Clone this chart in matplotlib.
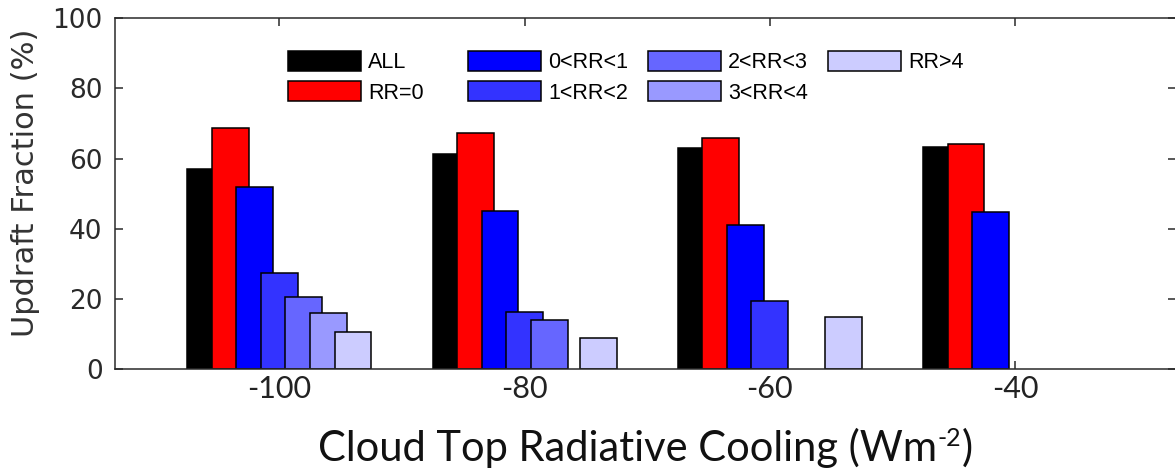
import numpy as np
import matplotlib
matplotlib.use("Agg")
import matplotlib.pyplot as plt
from matplotlib.patches import Patch

# ---- data ----
categories = [-100, -80, -60, -40]
series_names = ["ALL", "RR=0", "0<RR<1", "1<RR<2", "2<RR<3", "3<RR<4", "RR>4"]
all_vals = [57.0, 61.2, 63.0, 63.4]
rr0_vals = [68.7, 67.4, 65.8, 64.1]
rr01_vals = [51.8, 45.1, 41.1, 44.8]
rr12_vals = [27.5, 16.3, 19.3, np.nan]
rr23_vals = [20.7, 13.9, np.nan, np.nan]
rr34_vals = [16.1, np.nan, np.nan, np.nan]
rr4_vals = [10.6, 9.0, 14.8, np.nan]
series_values = [all_vals, rr0_vals, rr01_vals, rr12_vals, rr23_vals, rr34_vals, rr4_vals]
series_colors = ["#000000", "#FF0000", "#0000FF", "#3333FF", "#6666FF", "#9999FF", "#CCCCFF"]
yticks = [0, 20, 40, 60, 80, 100]

plt.rcParams['axes.unicode_minus'] = False

W, H = 1175, 472
fig = plt.figure(figsize=(W / 100, H / 100), dpi=100)

# axes placement in pixels
ax_l, ax_r, ax_t, ax_b = 115, 1176.5, 18, 369.3
ax = fig.add_axes([ax_l / W, 1 - ax_b / H, (ax_r - ax_l) / W, (ax_b - ax_t) / H])

bar_w = 3.0
step = 2.0
x = np.array(categories, dtype=float)
for i, (vals, col) in enumerate(zip(series_values, series_colors)):
    ax.bar(x + (i - 3) * step, vals, width=bar_w, color=col, edgecolor="black",
           linewidth=1.1, zorder=2 + i * 0.01)

ax.set_xlim(-113.4, -26.84)
ax.set_ylim(0, 100)
ax.set_xticks(categories)
ax.set_yticks(yticks)

spine_col = "#2a2a2a"
for s in ax.spines.values():
    s.set_linewidth(1.1)
    s.set_color(spine_col)

ax.tick_params(axis="both", direction="in", length=5.5, width=1.1, color=spine_col,
               top=True, right=True)
ax.tick_params(axis="y", labelsize=19, pad=9, labelcolor="#2a2a2a")
ax.tick_params(axis="x", labelsize=22, pad=4, labelcolor="#222222")
for lab in ax.get_yticklabels():
    lab.set_fontfamily("DejaVu Sans")
for lab in ax.get_xticklabels():
    lab.set_fontfamily("Lato")

# y label
fig.text(26 / W, 1 - 182.5 / H, "Updraft Fraction (%)", rotation=90, ha="center", va="center",
         fontsize=22, color="#333333", family="DejaVu Sans")

# x label built from pieces (regular hyphen in the superscript)
renderer = fig.canvas.get_renderer()
base_y = 1 - 461 / H
xl_fs = 30
t1 = fig.text(0, base_y, "Cloud Top Radiative Cooling (Wm", ha="left", va="baseline",
              fontsize=xl_fs, color="#111111", family="Lato")
w1 = t1.get_window_extent(renderer).width
t2 = fig.text(0, base_y, "-2", ha="left", va="baseline", fontsize=xl_fs * 0.6,
              color="#111111", family="Lato")
w2 = t2.get_window_extent(renderer).width
t3 = fig.text(0, base_y, ")", ha="left", va="baseline", fontsize=xl_fs,
              color="#111111", family="Lato")
w3 = t3.get_window_extent(renderer).width
total = w1 + w2 + w3 + 1
x0 = 645 - total / 2
t1.set_x(x0 / W)
t2.set_x((x0 + w1 + 0.5) / W)
t2.set_y(base_y + 15 / H)
t3.set_x((x0 + w1 + w2 + 1) / W)

# legend: 4 columns with uniform pitch
handles = [Patch(facecolor=c, edgecolor="black", linewidth=1.1) for c in series_colors]
col_groups = [[0, 1], [2, 3], [4, 5], [6]]
col_x = [288.3, 468.3, 648.3, 828.3]
fs = 15.5
fs_px = fs / 0.72
leg_prop = {"family": "Liberation Sans", "size": fs}
legends = []
for cx, grp in zip(col_x, col_groups):
    leg = ax.legend([handles[k] for k in grp], [series_names[k] for k in grp],
                    loc="upper left", bbox_to_anchor=(cx / W, 1 - 50.5 / H),
                    bbox_transform=fig.transFigure, frameon=False, borderpad=0,
                    borderaxespad=0, handlelength=73 / fs_px, handleheight=23 / fs_px,
                    handletextpad=7 / fs_px, labelspacing=0.38, prop=leg_prop)
    legends.append(leg)
# the last one stays as ax.legend_; add the others as extra artists
for leg in legends[:-1]:
    ax.add_artist(leg)

fig.savefig("out.png", dpi=100)
